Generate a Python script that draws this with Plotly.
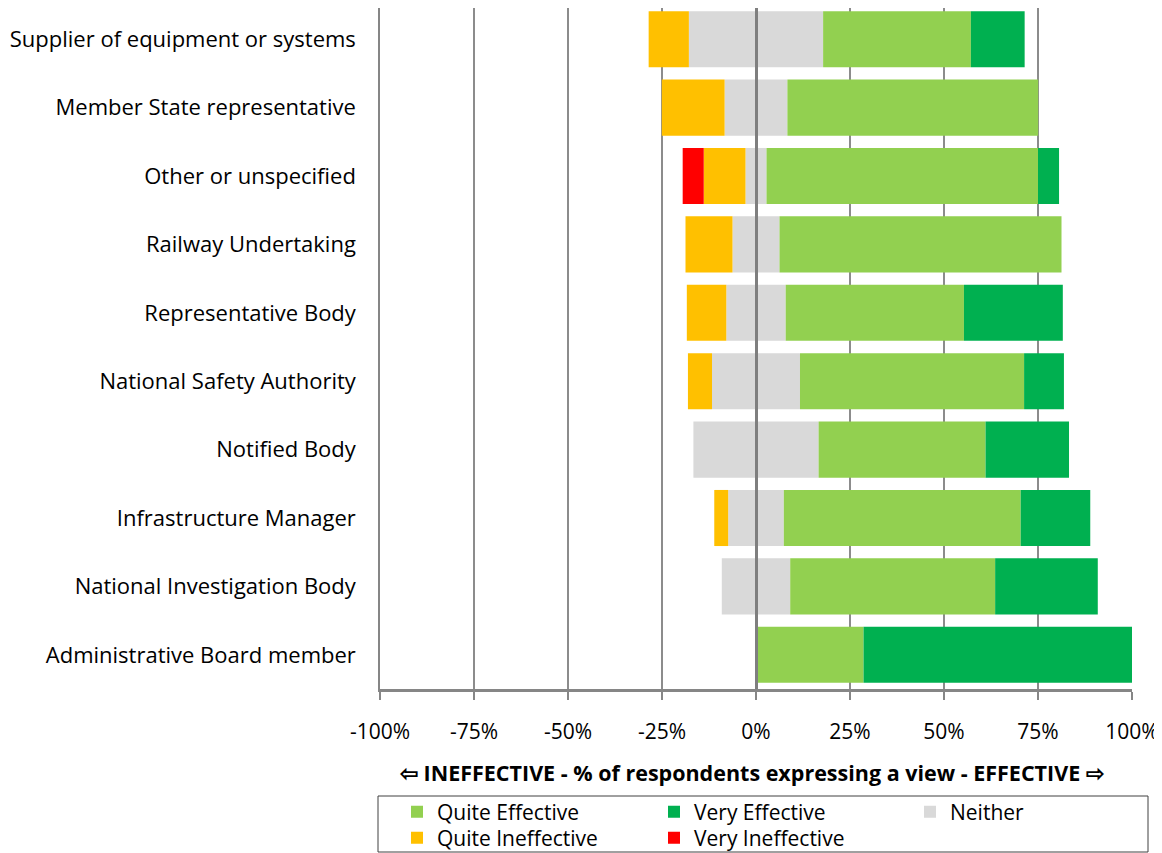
import plotly.graph_objects as go

categories = [
    "Supplier of equipment or systems",
    "Member State representative",
    "Other or unspecified",
    "Railway Undertaking",
    "Representative Body",
    "National Safety Authority",
    "Notified Body",
    "Infrastructure Manager",
    "National Investigation Body",
    "Administrative Board member",
]
quite_effective = [39.3, 66.7, 72.2, 75.0, 47.4, 59.6, 44.4, 63.0, 54.5, 28.6]
very_effective = [14.3, 0.0, 5.6, 0.0, 26.3, 10.6, 22.2, 18.5, 27.3, 71.4]
neither = [35.7, 16.7, 5.6, 12.5, 15.8, 23.4, 33.3, 14.8, 18.2, 0.0]
quite_ineffective = [10.7, 16.7, 11.1, 12.5, 10.5, 6.4, 0.0, 3.7, 0.0, 0.0]
very_ineffective = [0.0, 0.0, 5.6, 0.0, 0.0, 0.0, 0.0, 0.0, 0.0, 0.0]
tick_vals = [-100, -75, -50, -25, 0, 25, 50, 75, 100]
tick_text = ["-100%", "-75%", "-50%", "-25%", "0%", "25%", "50%", "75%", "100%"]

C_QE = "#92D050"
C_VE = "#00B050"
C_N = "#D9D9D9"
C_QI = "#FFC000"
C_VI = "#FF0000"
FONT = "Open Sans"

neither_half = [v / 2 for v in neither]

fig = go.Figure()
# negative side (stacked from zero outward)
fig.add_trace(go.Bar(y=categories, x=[-v for v in neither_half], orientation="h",
                     marker=dict(color=C_N, line=dict(width=0)), name="Neither",
                     showlegend=False, hoverinfo="skip"))
# positive side
fig.add_trace(go.Bar(y=categories, x=neither_half, orientation="h",
                     marker=dict(color=C_N, line=dict(width=0)), name="Neither",
                     legend="legend3"))
fig.add_trace(go.Bar(y=categories, x=[-v for v in quite_ineffective], orientation="h",
                     marker=dict(color=C_QI, line=dict(width=0)), name="Quite Ineffective",
                     legend="legend2", legendrank=1))
fig.add_trace(go.Bar(y=categories, x=[-v for v in very_ineffective], orientation="h",
                     marker=dict(color=C_VI, line=dict(width=0)), name="Very Ineffective",
                     legend="legend2", legendrank=2))
fig.add_trace(go.Bar(y=categories, x=quite_effective, orientation="h",
                     marker=dict(color=C_QE, line=dict(width=0)), name="Quite Effective",
                     legend="legend", legendrank=1))
fig.add_trace(go.Bar(y=categories, x=very_effective, orientation="h",
                     marker=dict(color=C_VE, line=dict(width=0)), name="Very Effective",
                     legend="legend", legendrank=2))

# page is drawn with an 8px body margin; figure coordinates = target pixel - 8
OFF = 8
FIG_W, FIG_H = 1162 - OFF, 853 - OFF
PLOT_TOP, PLOT_BOT = 8, 689          # target pixels
PLOT_L, PLOT_R = 380, 1132
plot_h = PLOT_BOT - PLOT_TOP
plot_w = PLOT_R - PLOT_L
row_step = 68.4
n = len(categories)
y_bottom = n - 0.5
y_top = y_bottom - plot_h / row_step

def py(pix):
    return (PLOT_BOT - pix) / plot_h

def px(pix):
    return (pix - PLOT_L) / plot_w

legend_common = dict(orientation="h", font=dict(family=FONT, size=21, color="#000000"),
                     bgcolor="rgba(0,0,0,0)", borderwidth=0, entrywidth=212,
                     xanchor="left", yanchor="middle", traceorder="normal",
                     itemclick=False, itemdoubleclick=False)

fig.update_layout(
    width=FIG_W, height=FIG_H,
    margin=dict(l=PLOT_L - OFF, r=FIG_W - (PLOT_R - OFF), t=PLOT_TOP - OFF,
                b=FIG_H - (PLOT_BOT - OFF), autoexpand=False),
    paper_bgcolor="white", plot_bgcolor="white",
    barmode="relative", bargap=0.18,
    font=dict(family=FONT, color="#000000"),
    showlegend=True,
    legend=dict(x=px(397), y=py(812), **legend_common),
    legend2=dict(x=px(397), y=py(838), **legend_common),
    legend3=dict(x=px(910), y=py(812), **legend_common),
    xaxis=dict(range=[-100, 100], tickvals=tick_vals, ticktext=tick_text,
               showgrid=True, gridcolor="#8C8C8C", gridwidth=1.5,
               zeroline=True, zerolinecolor="#7F7F7F", zerolinewidth=3,
               zerolinelayer="above traces",
               showline=True, linecolor="#868686", linewidth=3,
               ticks="outside", ticklen=8, tickwidth=2, tickcolor="#868686",
               tickfont=dict(family=FONT, size=21, color="#000000"),
               ticklabelstandoff=14, automargin=False, fixedrange=True),
    yaxis=dict(range=[y_bottom, y_top], showgrid=False, zeroline=False,
               showline=True, linecolor="#868686", linewidth=1.5,
               ticks="", tickfont=dict(family=FONT, size=22, color="#000000"),
               ticklabelstandoff=18, automargin=False, fixedrange=True),
    annotations=[dict(text="<b>\u21e6 INEFFECTIVE - % of respondents expressing a view - EFFECTIVE \u21e8</b>",
                      xref="paper", yref="paper", x=px(751.5), y=py(772),
                      xanchor="center", yanchor="middle", showarrow=False,
                      font=dict(family=FONT, size=21.5, color="#000000"))],
    shapes=[dict(type="rect", xref="paper", yref="paper",
                 x0=px(378), x1=px(1148), y0=py(852), y1=py(796),
                 line=dict(color="#404040", width=1), fillcolor="rgba(0,0,0,0)")],
)

fig.write_html("out.html")
